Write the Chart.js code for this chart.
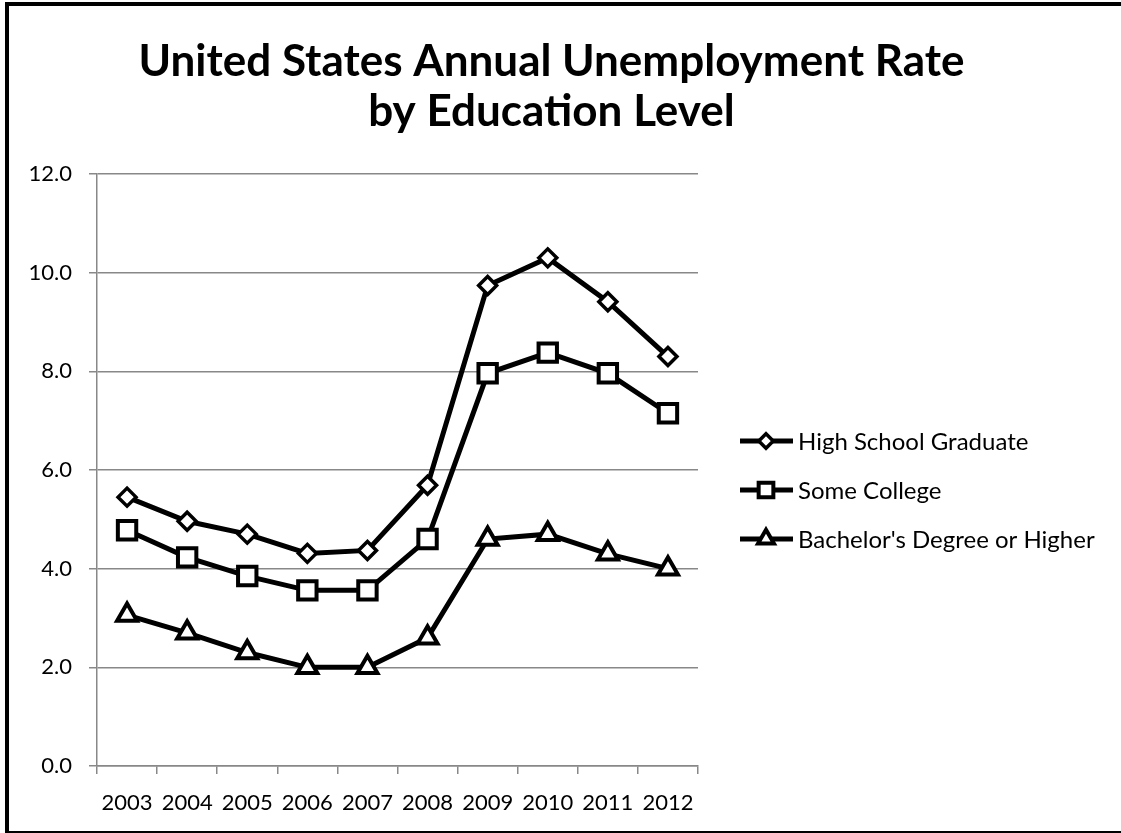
<!DOCTYPE html>
<html>
<head>
<meta charset="utf-8">
<script src="https://cdn.jsdelivr.net/npm/chart.js@4/dist/chart.umd.min.js"></script>
<style>
  html, body { margin: 0; padding: 0; background: #fff; overflow: hidden; }
  #wrap { position: relative; width: 1121px; height: 833px; }
  #frame { position: absolute; left: 5px; top: 2px; width: 1200px; height: 825px; border: 4px solid #000; pointer-events: none; }
  canvas { position: absolute; left: 0; top: 0; }
</style>
</head>
<body>
<div id="wrap">
  <canvas id="chart" width="1121" height="833"></canvas>
  <div id="frame"></div>
</div>
<script>
"use strict";

var years = ['2003', '2004', '2005', '2006', '2007', '2008', '2009', '2010', '2011', '2012'];
var highSchool = [5.45, 4.96, 4.70, 4.31, 4.37, 5.69, 9.74, 10.3, 9.41, 8.3];
var someCollege = [4.78, 4.23, 3.85, 3.56, 3.56, 4.6, 7.96, 8.38, 7.96, 7.15];
var bachelors = [3.06, 2.7, 2.3, 2.0, 2.0, 2.6, 4.6, 4.7, 4.3, 4.0];
var seriesNames = ['High School Graduate', 'Some College', "Bachelor's Degree or Higher"];
var yTicks = [0, 2, 4, 6, 8, 10, 12];

var gridGray = '#888888';
var labelFont = { family: 'Lato', size: 22 };

// legend drawn by hand: line + marker + text, to the right of the plot
var sideLegend = {
  id: 'sideLegend',
  afterDraw: function(chart) {
    var ctx = chart.ctx;
    var sets = chart.data.datasets;
    ctx.save();
    for (var i = 0; i < sets.length; i++) {
      var ds = sets[i];
      var y = 441 + i * 49;
      ctx.strokeStyle = '#000';
      ctx.lineWidth = 5;
      ctx.beginPath();
      ctx.moveTo(740, y);
      ctx.lineTo(793, y);
      ctx.stroke();
      ctx.fillStyle = '#fff';
      ctx.lineWidth = ds.pointBorderWidth;
      Chart.helpers.drawPoint(ctx, {
        pointStyle: ds.pointStyle,
        radius: ds.pointRadius * 0.8,
        rotation: 0,
        borderWidth: ds.pointBorderWidth
      }, 766, y);
      ctx.fillStyle = '#000';
      ctx.font = '24px Lato';
      ctx.textBaseline = 'middle';
      ctx.textAlign = 'left';
      ctx.fillText(ds.label, 798, y + 1);
    }
    ctx.restore();
  }
};

function lineSet(name, values, style, radius, bw) {
  return {
    label: name,
    data: values,
    borderColor: '#000',
    borderWidth: 5,
    tension: 0,
    pointStyle: style,
    pointRadius: radius,
    pointHoverRadius: radius,
    pointBackgroundColor: '#fff',
    pointBorderColor: '#000',
    pointBorderWidth: bw
  };
}

new Chart(document.getElementById('chart').getContext('2d'), {
  type: 'line',
  data: {
    labels: years,
    datasets: [
      lineSet(seriesNames[0], highSchool, 'rectRot', 9, 3.5),
      lineSet(seriesNames[1], someCollege, 'rect', 13, 4),
      lineSet(seriesNames[2], bachelors, 'triangle', 11.5, 4)
    ]
  },
  options: {
    responsive: false,
    animation: false,
    layout: { padding: { left: 0, right: 18, top: 0, bottom: 0 } },
    plugins: {
      legend: { display: false },
      tooltip: { enabled: false },
      title: {
        display: true,
        text: ['United States Annual Unemployment Rate', 'by Education Level'],
        color: '#000',
        font: { family: 'Lato', size: 44, weight: 'bold', lineHeight: 50 / 44 },
        padding: { top: 37, bottom: 37 }
      }
    },
    scales: {
      x: {
        offset: true,
        afterFit: function(scale) { scale.height = 67; },
        grid: { offset: true, drawOnChartArea: false, drawTicks: true, tickLength: 8, color: gridGray, lineWidth: 1.5 },
        border: { display: true, color: gridGray, width: 1.5 },
        ticks: { color: '#000', font: labelFont, padding: 16, maxRotation: 0, autoSkip: false }
      },
      y: {
        min: 0,
        max: 12,
        afterFit: function(scale) { scale.width = 97; },
        afterBuildTicks: function(scale) {
          scale.ticks = yTicks.map(function(v) { return { value: v }; });
        },
        grid: { color: gridGray, lineWidth: 1.5, tickLength: 8 },
        border: { display: true, color: gridGray, width: 1.5 },
        ticks: {
          color: '#000',
          font: labelFont,
          padding: 17,
          callback: function(v) { return Number(v).toFixed(1); }
        }
      },
      legendSpace: {
        type: 'linear',
        position: 'right',
        display: true,
        afterFit: function(scale) { scale.width = 405; },
        grid: { display: false, drawTicks: false },
        border: { display: false },
        ticks: { display: false }
      }
    }
  },
  plugins: [sideLegend]
});
</script>
</body>
</html>
